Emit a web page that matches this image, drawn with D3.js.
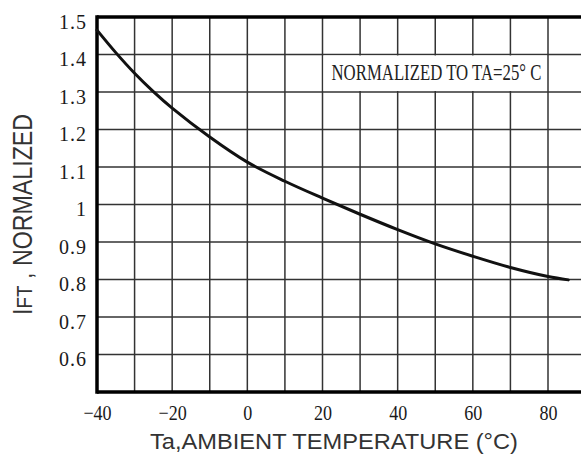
<!DOCTYPE html>
<html>
<head>
<meta charset="utf-8">
<script src="https://cdn.jsdelivr.net/npm/d3@7"></script>
<style>
  html, body { margin: 0; padding: 0; background: #fff; }
  svg { display: block; }
</style>
</head>
<body>
<svg id="chart" width="581" height="455"></svg>
<script>
// ---- data ----
const temps  = [-40, -35, -30, -25, -20, -10, 0, 10, 20, 30, 40, 50, 60, 70, 80, 85.4];
const values = [1.465, 1.405, 1.350, 1.301, 1.257, 1.180, 1.113, 1.062, 1.017, 0.974, 0.933, 0.895, 0.862, 0.832, 0.808, 0.799];
const xTickLabels = [-40, -20, 0, 20, 40, 60, 80];
const xGrid = [-30, -20, -10, 0, 10, 20, 30, 40, 50, 60, 70, 80, 90];
const yTickLabels = [1.5, 1.4, 1.3, 1.2, 1.1, 1.0, 0.9, 0.8, 0.7, 0.6];
const yGrid = [0.6, 0.7, 0.8, 0.9, 1.0, 1.1, 1.2, 1.3, 1.4];
const noteText = "NORMALIZED TO TA=25° C";
const xTitle = "Ta,AMBIENT TEMPERATURE (°C)";

// ---- scales ----
const svg = d3.select("#chart");
const x = d3.scaleLinear().domain([-40, 80]).range([97, 548]);
const y = d3.scaleLinear().domain([0.5, 1.5]).range([392, 17]);
const xMax = 90, yMin = 0.5, yMax = 1.5;

// ---- grid ----
const grid = svg.append("g").attr("stroke", "#333").attr("stroke-width", 1.5);
grid.selectAll("line.v").data(xGrid).join("line")
  .attr("x1", d => x(d)).attr("x2", d => x(d))
  .attr("y1", y(yMax)).attr("y2", y(yMin));
grid.selectAll("line.h").data(yGrid).join("line")
  .attr("x1", x(-40)).attr("x2", x(xMax))
  .attr("y1", d => y(d)).attr("y2", d => y(d));

// ---- annotation box ----
svg.append("rect")
  .attr("x", x(20) + 1).attr("y", y(1.4) + 1)
  .attr("width", x(80) - x(20) - 2).attr("height", y(1.3) - y(1.4) - 2)
  .attr("fill", "#fff");
const note = svg.append("text")
  .attr("font-family", "'Liberation Serif', serif")
  .attr("font-size", 24)
  .attr("fill", "#222")
  .text(noteText);
const nw = note.node().getComputedTextLength();
note.attr("transform", `translate(${x(20) + 9},${y(1.3) - 12}) scale(${210 / nw},1)`);

// ---- borders ----
const border = svg.append("g").attr("stroke", "#000").attr("stroke-width", 3.5).attr("fill", "none");
border.append("line").attr("x1", x(-40)).attr("x2", x(xMax)).attr("y1", y(yMax)).attr("y2", y(yMax));
border.append("line").attr("x1", x(-40)).attr("x2", x(xMax)).attr("y1", y(yMin)).attr("y2", y(yMin));
border.append("line").attr("x1", x(-40)).attr("x2", x(-40)).attr("y1", y(yMax) - 1.75).attr("y2", y(yMin) + 1.75);

// ---- curve ----
const line = d3.line().x((d, i) => x(temps[i])).y(d => y(d)).curve(d3.curveCatmullRom.alpha(0.5));
svg.append("path")
  .datum(values)
  .attr("d", line)
  .attr("fill", "none")
  .attr("stroke", "#111")
  .attr("stroke-width", 3)
  .attr("stroke-linecap", "round");

// ---- axes ----
const xAxis = svg.append("g")
  .attr("transform", `translate(0,${y(yMin)})`)
  .call(d3.axisBottom(x).tickValues(xTickLabels).tickSize(0));
xAxis.select(".domain").remove();
xAxis.selectAll("text")
  .attr("y", 28.5).attr("dy", 0)
  .attr("transform", "scale(0.86,1)")
  .attr("font-family", "'Liberation Serif', serif")
  .attr("font-size", 21)
  .attr("fill", "#1a1a1a");

const yAxis = svg.append("g")
  .attr("transform", `translate(${x(-40)},0)`)
  .call(d3.axisLeft(y).tickValues(yTickLabels).tickSize(0).tickFormat(d3.format("")));
yAxis.select(".domain").remove();
yAxis.selectAll("text")
  .attr("x", -10).attr("dy", 11)
  .attr("font-family", "'Liberation Serif', serif")
  .attr("font-size", 20)
  .attr("letter-spacing", 1)
  .attr("fill", "#1a1a1a");

// ---- titles ----
svg.append("text")
  .attr("x", 150).attr("y", 449)
  .attr("font-family", "'Liberation Sans', Arial, sans-serif")
  .attr("font-size", 22)
  .attr("fill", "#333")
  .attr("textLength", 368)
  .attr("lengthAdjust", "spacingAndGlyphs")
  .text(xTitle);

const yt = svg.append("text")
  .attr("transform", "translate(32,315) rotate(-90) scale(0.86,1)")
  .attr("font-family", "'Liberation Sans', Arial, sans-serif")
  .attr("font-size", 27)
  .attr("fill", "#333");
yt.append("tspan").text("I");
yt.append("tspan").attr("font-size", 22).text("FT");
yt.append("tspan").text(" , NORMALIZED");
</script>
</body>
</html>
